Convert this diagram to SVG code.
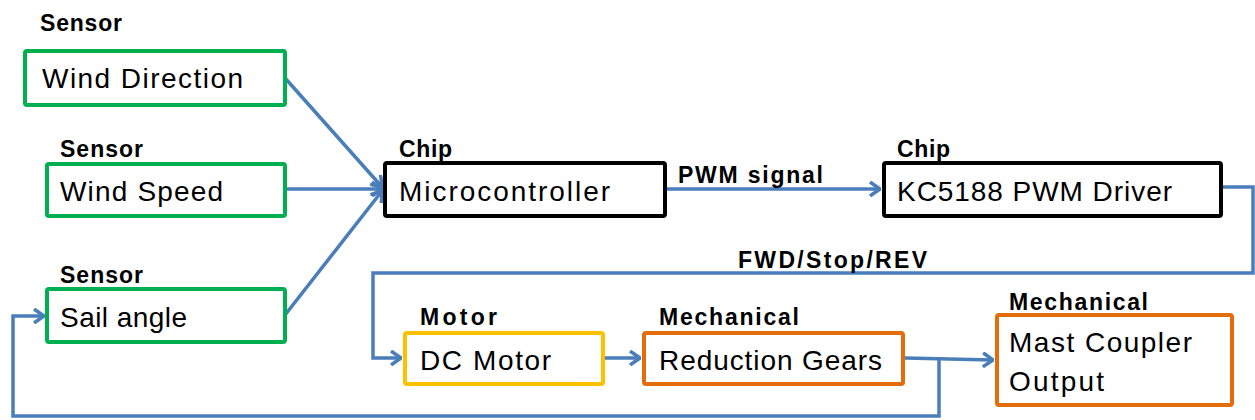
<svg xmlns="http://www.w3.org/2000/svg" width="1255" height="420" viewBox="0 0 1255 420">
<style>
.box{fill:#fff;stroke-width:4;stroke-linejoin:round}
.green{stroke:#00B050}
.black{stroke:#000}
.yellow{stroke:#FFC000}
.orange{stroke:#E46C0A}
.t{font-family:"Liberation Sans",Arial,sans-serif;font-size:28px;fill:#000}
.lb{font-family:"Liberation Sans",Arial,sans-serif;font-size:23px;font-weight:bold;fill:#000}
.c{fill:none;stroke:#4A7EBB;stroke-width:3.5;stroke-linejoin:miter}
</style>
<defs>
<marker id="arr" viewBox="0 0 12 16" refX="11" refY="8" markerWidth="12" markerHeight="16" markerUnits="userSpaceOnUse" orient="auto">
<path d="M1,1 L11,8 L1,15" fill="none" stroke="#4A7EBB" stroke-width="3.5"/>
</marker>
</defs>
<rect width="1255" height="420" fill="#fff"/>
<g id="connectors">
<path class="c" d="M285,78 L382,187" marker-end="url(#arr)"/>
<path class="c" d="M287,189 L382,189" marker-end="url(#arr)"/>
<path class="c" d="M285,315 L382,191" marker-end="url(#arr)"/>
<path class="c" d="M666,189 L880,189" marker-end="url(#arr)"/>
<path class="c" d="M1222,187 L1253,187 L1253,273 L373,273 L373,358 L401,358" marker-end="url(#arr)"/>
<path class="c" d="M605,358 L640,358" marker-end="url(#arr)"/>
<path class="c" d="M905,358 L993,360" marker-end="url(#arr)"/>
<path class="c" d="M939,358 L939,416 L13,416 L13,316 L44,316" marker-end="url(#arr)"/>
<text class="lb" x="678" y="183" textLength="145" lengthAdjust="spacing">PWM signal</text>
<text class="lb" x="738" y="268" textLength="189" lengthAdjust="spacing">FWD/Stop/REV</text>
</g>
<g id="wind-direction">
<text class="lb" x="40" y="31" textLength="82" lengthAdjust="spacing">Sensor</text>
<rect class="box green" x="25" y="51" width="260" height="54" rx="2"/>
<text class="t" x="42" y="88" textLength="201" lengthAdjust="spacing">Wind Direction</text>
</g>
<g id="wind-speed">
<text class="lb" x="60" y="157" textLength="83" lengthAdjust="spacing">Sensor</text>
<rect class="box green" x="47" y="164" width="238" height="52" rx="2"/>
<text class="t" x="60" y="201" textLength="163" lengthAdjust="spacing">Wind Speed</text>
</g>
<g id="sail-angle">
<text class="lb" x="60" y="283" textLength="83" lengthAdjust="spacing">Sensor</text>
<rect class="box green" x="47" y="289" width="238" height="53" rx="2"/>
<text class="t" x="60" y="327" textLength="127" lengthAdjust="spacing">Sail angle</text>
</g>
<g id="microcontroller">
<text class="lb" x="399" y="157" textLength="53" lengthAdjust="spacing">Chip</text>
<rect class="box black" x="385" y="163" width="280" height="53" rx="2"/>
<text class="t" x="399" y="201" textLength="211" lengthAdjust="spacing">Microcontroller</text>
</g>
<g id="pwm-driver">
<text class="lb" x="897" y="157" textLength="53" lengthAdjust="spacing">Chip</text>
<rect class="box black" x="884" y="163" width="337" height="53" rx="2"/>
<text class="t" x="897" y="201" textLength="275" lengthAdjust="spacing">KC5188 PWM Driver</text>
</g>
<g id="dc-motor">
<text class="lb" x="420" y="325" textLength="77" lengthAdjust="spacing">Motor</text>
<rect class="box yellow" x="405" y="333" width="198" height="51" rx="2"/>
<text class="t" x="420" y="370" textLength="131" lengthAdjust="spacing">DC Motor</text>
</g>
<g id="reduction-gears">
<text class="lb" x="659" y="325" textLength="140" lengthAdjust="spacing">Mechanical</text>
<rect class="box orange" x="644" y="333" width="259" height="51" rx="2"/>
<text class="t" x="659" y="370" textLength="223" lengthAdjust="spacing">Reduction Gears</text>
</g>
<g id="mast-coupler">
<text class="lb" x="1009" y="310" textLength="139" lengthAdjust="spacing">Mechanical</text>
<rect class="box orange" x="997" y="315" width="235" height="90" rx="2"/>
<text class="t" x="1009" y="352" textLength="183" lengthAdjust="spacing">Mast Coupler</text>
<text class="t" x="1009" y="391" textLength="95" lengthAdjust="spacing">Output</text>
</g>
</svg>
